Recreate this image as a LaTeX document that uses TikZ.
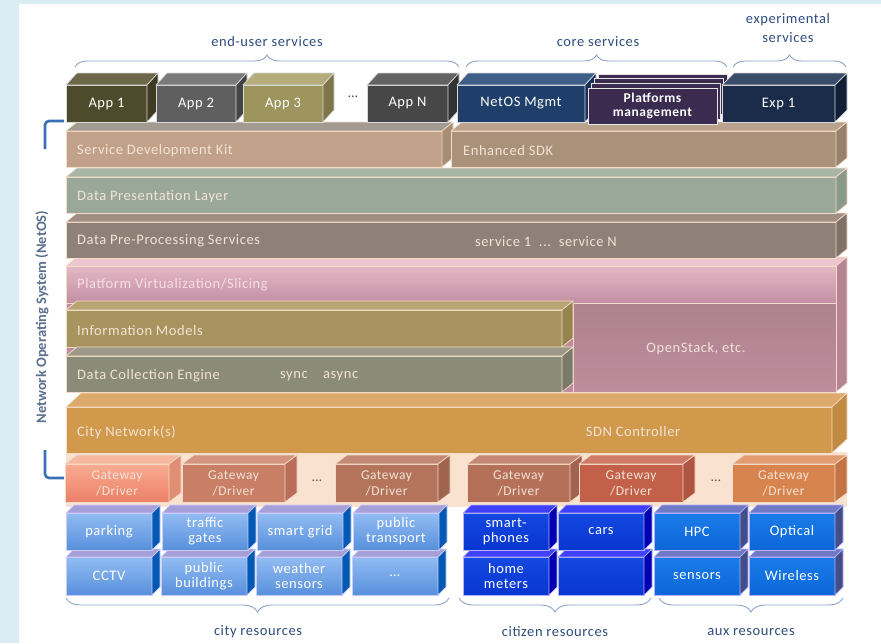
\documentclass[tikz,border=0pt]{standalone}
\usepackage{fontspec}
\setmainfont{Carlito}[LetterSpace=4]
\usetikzlibrary{decorations.pathreplacing}
\definecolor{bgc}{HTML}{DAEDF3}
\definecolor{bordc}{HTML}{F3DCC8}
\definecolor{lighttxt}{HTML}{F3E3D6}
\definecolor{pvtxt}{HTML}{F7DDE5}
\definecolor{labc}{HTML}{2E4C7E}
\definecolor{bracec}{HTML}{8DA4C8}
\definecolor{netosc}{HTML}{5B6F8E}
\definecolor{netbar}{HTML}{3B6FB6}
\newcommand\cubeit[6]{%
  \filldraw[edge=#6, fill=#4] (#1.north west) -- ++(#2,#3) -- ([shift={(#2,#3)}]#1.north east) -- (#1.north east) -- cycle;
  \filldraw[edge=#6, fill=#5] (#1.north east) -- ++(#2,#3) -- ([shift={(#2,#3)}]#1.south east) -- (#1.south east) -- cycle;}
\begin{document}
\begin{tikzpicture}[x=1pt,y=-1pt,
  edge/.style={draw=#1, line width=0.7pt, line join=round},
  face/.style={draw=#1, line width=0.7pt, inner sep=0pt, outer sep=0pt},
  lt/.style={font=\fontsize{14.5}{16}\selectfont, text=lighttxt, anchor=west, inner sep=0pt},
  ct/.style={font=\fontsize{14.5}{16}\selectfont, text=lighttxt, inner sep=0pt},
  wt/.style={font=\fontsize{14.5}{16}\selectfont, text=white, align=center},
  gt/.style={font=\fontsize{13.5}{16}\selectfont, text=lighttxt, align=center},
  rt/.style={font=\fontsize{14.5}{15}\selectfont, text=white, align=center},
  brc/.style={draw=bracec, line width=0.9pt, decorate, decoration={brace, amplitude=#1}},
  brlab/.style={font=\fontsize{14.5}{19}\selectfont, text=labc, align=center, inner sep=0pt},
  dots/.style={font=\fontsize{14}{16}\selectfont, text=#1, inner sep=0pt}]
\useasboundingbox (0,0) rectangle (881,643);
\fill[bgc] (0,0) rectangle (881,643);
\fill[white] (19,4) rectangle (881,643);

% peach band behind gateways
\fill[fill={rgb,255:red,249;green,226;blue,208}] (66,452) rectangle (847,507);

% ---------- resources row 2
\tikzset{cres/.style={face=white!80!blue, top color={rgb,255:red,146;green,188;blue,243}, bottom color={rgb,255:red,88;green,144;blue,220}, minimum height=38pt, minimum width=86pt},
         zres/.style={face=white!70!blue, top color={rgb,255:red,20;green,72;blue,224}, bottom color={rgb,255:red,8;green,54;blue,208}, minimum height=38pt, minimum width=86pt},
         ares/.style={face=white!70!blue, top color={rgb,255:red,26;green,124;blue,232}, bottom color={rgb,255:red,12;green,102;blue,216}, minimum height=38pt, minimum width=86pt}}
\node[cres, rt] (cctv) at (109,576) {CCTV};
\cubeit{cctv}{8}{-8}{cyan!10!blue!35}{blue!50!cyan!70!black}{white!80!blue}
\node[cres, rt] (pubb) at (204,576) {public\\buildings};
\cubeit{pubb}{8}{-8}{cyan!10!blue!35}{blue!50!cyan!70!black}{white!80!blue}
\node[cres, rt] (weat) at (299,576) {weather\\sensors};
\cubeit{weat}{8}{-8}{cyan!10!blue!35}{blue!50!cyan!70!black}{white!80!blue}
\node[cres, rt] (cmore) at (395,576) {\dots};
\cubeit{cmore}{8}{-8}{cyan!10!blue!35}{blue!50!cyan!70!black}{white!80!blue}
\node[zres, rt] (home) at (506,576) {home\\meters};
\cubeit{home}{8}{-8}{blue!75}{blue!70!black}{white!70!blue}
\node[zres, rt] (zblank) at (601,576) {};
\cubeit{zblank}{8}{-8}{blue!75}{blue!70!black}{white!70!blue}
\node[ares, rt] (sens) at (697,576) {sensors};
\cubeit{sens}{8}{-8}{cyan!20!blue!60}{cyan!20!blue!70!black}{white!70!blue}
\node[ares, rt] (wirel) at (792,576) {Wireless};
\cubeit{wirel}{8}{-8}{cyan!20!blue!60}{cyan!20!blue!70!black}{white!70!blue}
% ---------- resources row 1
\node[cres, rt, minimum height=37pt] (park) at (109,531.5) {parking};
\cubeit{park}{8}{-8}{cyan!10!blue!35}{blue!50!cyan!70!black}{white!80!blue}
\node[cres, rt, minimum height=37pt] (traf) at (205,531.5) {traffic\\gates};
\cubeit{traf}{8}{-8}{cyan!10!blue!35}{blue!50!cyan!70!black}{white!80!blue}
\node[cres, rt, minimum height=37pt] (grid) at (300,531.5) {smart grid};
\cubeit{grid}{8}{-8}{cyan!10!blue!35}{blue!50!cyan!70!black}{white!80!blue}
\node[cres, rt, minimum height=37pt] (ptra) at (396,531.5) {public\\transport};
\cubeit{ptra}{8}{-8}{cyan!10!blue!35}{blue!50!cyan!70!black}{white!80!blue}
\node[zres, rt, minimum height=37pt] (phon) at (506,531.5) {smart-\\phones};
\cubeit{phon}{8}{-8}{blue!75}{blue!70!black}{white!70!blue}
\node[zres, rt, minimum height=37pt] (cars) at (601,531.5) {cars};
\cubeit{cars}{8}{-8}{blue!75}{blue!70!black}{white!70!blue}
\node[ares, rt, minimum height=37pt] (hpc) at (697,531.5) {HPC};
\cubeit{hpc}{8}{-8}{cyan!20!blue!60}{cyan!20!blue!70!black}{white!70!blue}
\node[ares, rt, minimum height=37pt] (opti) at (792,531.5) {Optical};
\cubeit{opti}{8}{-8}{cyan!20!blue!60}{cyan!20!blue!70!black}{white!70!blue}

% ---------- gateways
\tikzset{gw/.style={face=bordc, minimum width=103pt, minimum height=38pt}}
\node[gw, gt, top color={rgb,255:red,248;green,172;blue,146}, bottom color={rgb,255:red,236;green,128;blue,104}, minimum width=104pt] (gw1) at (117,483) {Gateway\\/Driver};
\cubeit{gw1}{12}{-9}{{rgb,255:red,246;green,184;blue,160}}{{rgb,255:red,224;green,142;blue,116}}{bordc}
\node[gw, gt, fill={rgb,255:red,201;green,126;blue,102}] (gw2) at (233.5,483) {Gateway\\/Driver};
\cubeit{gw2}{12}{-9}{{rgb,255:red,212;green,148;blue,128}}{{rgb,255:red,184;green,110;blue,88}}{bordc}
\node[dots=black!65] (gd1) at (317,481) {\dots};
\node[gw, gt, fill={rgb,255:red,180;green,116;blue,92}] (gw3) at (386.5,483) {Gateway\\/Driver};
\cubeit{gw3}{12}{-9}{{rgb,255:red,194;green,138;blue,116}}{{rgb,255:red,160;green,100;blue,78}}{bordc}
\node[gw, gt, fill={rgb,255:red,181;green,112;blue,90}] (gw4) at (518.5,483) {Gateway\\/Driver};
\cubeit{gw4}{12}{-9}{{rgb,255:red,196;green,136;blue,118}}{{rgb,255:red,162;green,98;blue,80}}{bordc}
\node[gw, gt, fill={rgb,255:red,194;green,96;blue,74}, minimum width=104pt] (gw5) at (631,483) {Gateway\\/Driver};
\cubeit{gw5}{12}{-9}{{rgb,255:red,208;green,122;blue,104}}{{rgb,255:red,174;green,84;blue,64}}{bordc}
\node[dots=black!65] (gd2) at (716,481) {\dots};
\node[gw, gt, fill={rgb,255:red,216;green,132;blue,79}] (gw6) at (783.5,483) {Gateway\\/Driver};
\cubeit{gw6}{12}{-9}{{rgb,255:red,226;green,156;blue,112}}{{rgb,255:red,196;green,116;blue,68}}{bordc}

% ---------- city network
\node[face=bordc, fill={rgb,255:red,208;green,153;blue,76}, minimum width=766pt, minimum height=46pt] (city) at (449,430) {};
\cubeit{city}{15}{-14}{{rgb,255:red,220;green,171;blue,108}}{{rgb,255:red,192;green,138;blue,64}}{bordc}
\node[lt] (tcity) at (77,432) {City Network(s)};
\node[ct] (tsdn) at (633,432) {SDN Controller};

% ---------- platform virtualization block
\node[face=bordc, fill={rgb,255:red,190;green,140;blue,158}, minimum width=770pt, minimum height=126pt] (pvs) at (451,329) {};
\cubeit{pvs}{11}{-9}{{rgb,255:red,236;green,196;blue,206}}{{rgb,255:red,180;green,132;blue,148}}{bordc}
\shade[top color={rgb,255:red,228;green,184;blue,197}, bottom color={rgb,255:red,194;green,144;blue,164}, draw=bordc, line width=0.7pt] (66,266) rectangle (836,303);
\node[face=bordc, top color={rgb,255:red,174;green,130;blue,143}, bottom color={rgb,255:red,190;green,141;blue,157}, minimum width=263pt, minimum height=89pt] (ostk) at (704.5,347.5) {};
\node[ct] (tos) at (696,349) {OpenStack, etc.};
\node[lt, text=pvtxt] (tpvs) at (77,285) {Platform Virtualization/Slicing};

\node[face=bordc, fill={rgb,255:red,168;green,148;blue,94}, minimum width=496pt, minimum height=37pt] (im) at (314,328.5) {};
\cubeit{im}{11}{-9}{{rgb,255:red,183;green,165;blue,116}}{{rgb,255:red,150;green,132;blue,80}}{bordc}
\node[lt] (tim) at (77,331) {Information Models};
\node[face=bordc, fill={rgb,255:red,139;green,139;blue,121}, minimum width=496pt, minimum height=36pt] (dce) at (314,374) {};
\cubeit{dce}{11}{-9}{{rgb,255:red,156;green,154;blue,134}}{{rgb,255:red,122;green,122;blue,104}}{bordc}
\node[lt] (tdce) at (77,376) {Data Collection Engine};
\node[lt] (tsync) at (280,376) {sync};
\node[lt] (tasync) at (323,376) {async};

% ---------- data pre-processing
\node[face=bordc, fill={rgb,255:red,143;green,128;blue,120}, minimum width=770pt, minimum height=36pt] (dpp) at (451,240) {};
\cubeit{dpp}{11}{-9}{{rgb,255:red,160;green,142;blue,132}}{{rgb,255:red,127;green,112;blue,104}}{bordc}
\node[lt] (tdpp) at (77,241) {Data Pre-Processing Services};
\node[lt] (tsvc) at (475,242) {service 1~~...~~service N};

% ---------- data presentation
\node[face=bordc, fill={rgb,255:red,153;green,168;blue,153}, minimum width=770pt, minimum height=36pt] (dpl) at (451,195) {};
\cubeit{dpl}{11}{-9}{{rgb,255:red,169;green,182;blue,166}}{{rgb,255:red,138;green,154;blue,138}}{bordc}
\node[lt] (tdpl) at (77,197) {Data Presentation Layer};

% ---------- SDKs
\node[face=bordc, fill={rgb,255:red,193;green,161;blue,137}, minimum width=376pt, minimum height=36pt] (sdk) at (254,149) {};
\cubeit{sdk}{11}{-9}{{rgb,255:red,163;green,155;blue,146}}{{rgb,255:red,168;green,140;blue,116}}{bordc}
\node[lt] (tsdk) at (77,151) {Service Development Kit};
\node[face=bordc, fill={rgb,255:red,170;green,145;blue,122}, minimum width=385pt, minimum height=36pt] (esdk) at (643.5,149) {};
\cubeit{esdk}{11}{-9}{{rgb,255:red,185;green,163;blue,142}}{{rgb,255:red,152;green,128;blue,106}}{bordc}
\node[lt] (tesdk) at (463,151) {Enhanced SDK};

% ---------- apps
\tikzset{app/.style={face=white!85!black, minimum height=37pt}}
\node[app, wt, fill={rgb,255:red,78;green,74;blue,44}, minimum width=81pt] (app1) at (106.5,103.5) {App 1};
\cubeit{app1}{11}{-12}{{rgb,255:red,107;green,103;blue,72}}{{rgb,255:red,63;green,59;blue,34}}{white!85!black}
\node[app, wt, fill={rgb,255:red,95;green,95;blue,95}, minimum width=80pt] (app2) at (196,103.5) {App 2};
\cubeit{app2}{11}{-12}{{rgb,255:red,122;green,122;blue,122}}{{rgb,255:red,68;green,68;blue,68}}{white!85!black}
\node[app, wt, fill={rgb,255:red,158;green,148;blue,94}, minimum width=80pt] (app3) at (283,103.5) {App 3};
\cubeit{app3}{11}{-12}{{rgb,255:red,181;green,172;blue,124}}{{rgb,255:red,126;green,117;blue,72}}{white!85!black}
\node[dots=black!70] (adots) at (353,97) {\dots};
\node[app, wt, fill={rgb,255:red,71;green,71;blue,71}, minimum width=81pt] (appn) at (407.5,103.5) {App N};
\cubeit{appn}{11}{-12}{{rgb,255:red,99;green,99;blue,99}}{{rgb,255:red,51;green,51;blue,51}}{white!85!black}
\node[app, wt, fill={rgb,255:red,31;green,63;blue,106}, minimum width=128pt] (netm) at (521,103.5) {NetOS Mgmt};
\cubeit{netm}{11}{-12}{{rgb,255:red,62;green,94;blue,136}}{{rgb,255:red,23;green,48;blue,90}}{white!85!black}
% platforms management stack
\tikzset{card/.style={fill={rgb,255:red,59;green,43;blue,78}, draw=white!90!black, line width=0.8pt}}
\filldraw[card] (598,74) rectangle (727,110);
\filldraw[card] (594.7,78.7) rectangle (723.7,114.7);
\filldraw[card] (591.3,83.3) rectangle (720.3,119.3);
\node[card, minimum width=129pt, minimum height=36pt, inner sep=0pt, text=white, align=center, font=\fontsize{13.5}{14}\selectfont\bfseries] (plat) at (652.5,106) {Platforms\\management};
\node[app, wt, fill={rgb,255:red,27;green,44;blue,74}, minimum width=113pt] (exp1) at (778.5,103.5) {Exp 1};
\cubeit{exp1}{12}{-12}{{rgb,255:red,58;green,76;blue,106}}{{rgb,255:red,16;green,30;blue,54}}{white!85!black}

% ---------- braces and labels
\coordinate (b1a) at (75,67);  \coordinate (b1b) at (459,67);
\coordinate (b2a) at (466,67); \coordinate (b2b) at (727,67);
\coordinate (b3a) at (733,67); \coordinate (b3b) at (846,67);
\draw[brc=12pt] (b1a) -- (b1b);
\draw[brc=12pt] (b2a) -- (b2b);
\draw[brc=12pt] (b3a) -- (b3b);
\node[brlab] (l1) at (267,42) {end-user services};
\node[brlab] (l2) at (598,42) {core services};
\node[brlab] (l3) at (788,28) {experimental\\services};
\coordinate (c1a) at (449,598); \coordinate (c1b) at (66,598);
\coordinate (c2a) at (651,598); \coordinate (c2b) at (459,598);
\coordinate (c3a) at (843,598); \coordinate (c3b) at (659,598);
\draw[brc=14pt] (c1a) -- (c1b);
\draw[brc=14pt] (c2a) -- (c2b);
\draw[brc=14pt] (c3a) -- (c3b);
\node[brlab] (l4) at (258,632) {city resources};
\node[brlab] (l5) at (555,632) {citizen resources};
\node[brlab] (l6) at (751,632) {aux resources};

% ---------- NetOS bracket and label
\coordinate (n1) at (64,121); \coordinate (n2) at (45,121); \coordinate (n3) at (45,149);
\coordinate (n4) at (45,450); \coordinate (n5) at (45,478); \coordinate (n6) at (64,478);
\draw[netbar, line width=2.6pt, rounded corners=4pt] (n1) -- (n2) -- (n3);
\draw[netbar, line width=2.6pt, rounded corners=4pt] (n4) -- (n5) -- (n6);
\node[rotate=90, text=netosc, font=\fontsize{14.5}{16}\selectfont\bfseries\addfontfeatures{LetterSpace=0}, inner sep=0pt] (netos) at (42,317) {Network Operating System (NetOS)};
\end{tikzpicture}
\end{document}
